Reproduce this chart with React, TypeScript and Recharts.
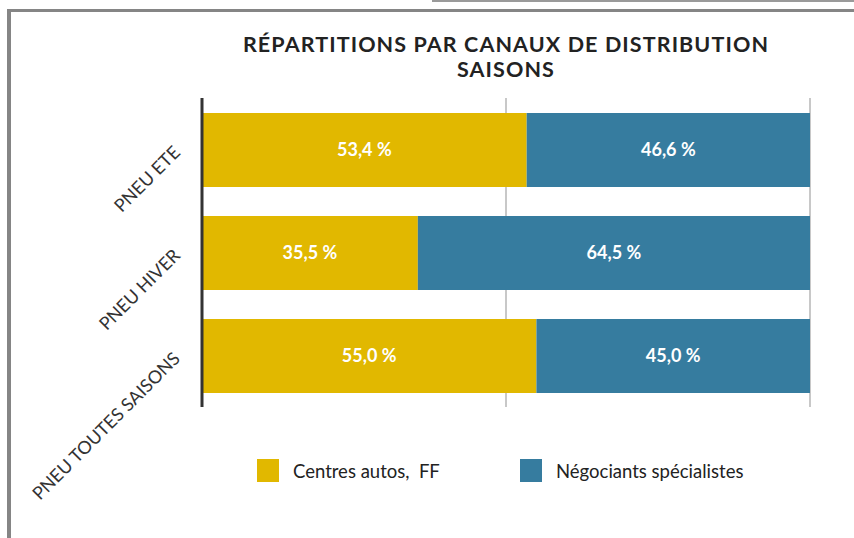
import React from 'react';
import { Bar, BarChart, CartesianGrid, LabelList, Legend, XAxis, YAxis } from 'recharts';

const categories = ['PNEU ETE', 'PNEU HIVER', 'PNEU TOUTES SAISONS'];
const centresAutos = [53.4, 35.5, 55.0];
const negociants = [46.6, 64.5, 45.0];
const xTicks = [0, 50, 100];

const SERIES = [
  { key: 'centres', name: 'Centres autos,  FF', color: '#E1B800' },
  { key: 'negociants', name: 'Négociants spécialistes', color: '#367C9F' },
];

const FONT = 'Lato, "Open Sans", sans-serif';

const data = categories.map((name, i) => ({
  name,
  centres: centresAutos[i],
  negociants: negociants[i],
}));

const formatPct = (v: number) => `${v.toFixed(1).replace('.', ',')} %`;

function AngledTick({ x, y, payload }: any) {
  return (
    <text
      x={x}
      y={y}
      dy={6}
      transform={`rotate(-45 ${x} ${y})`}
      textAnchor="end"
      fill="#333"
      fontSize={18}
      fontFamily={FONT}
    >
      {payload.value}
    </text>
  );
}

function LegendContent() {
  return (
    <div style={{ display: 'flex', alignItems: 'center', fontFamily: FONT, fontSize: 18.5, color: '#222' }}>
      {SERIES.map((s, i) => (
        <div key={s.key} style={{ display: 'flex', alignItems: 'center', width: i === 0 ? 263 : 'auto' }}>
          <span style={{ width: 22, height: 23, background: s.color, display: 'inline-block', marginRight: 14 }} />
          <span style={{ whiteSpace: 'pre' }}>{s.name}</span>
        </div>
      ))}
    </div>
  );
}

export default function App() {
  return (
    <div style={{ position: 'absolute', left: 0, top: 0, width: 854, height: 538, background: '#fff', overflow: 'hidden' }}>
      <div style={{ position: 'absolute', left: 432, top: 0, width: 422, height: 2, background: '#9a9a9a' }} />
      <div style={{ position: 'absolute', left: 7, top: 9, width: 847, height: 3, background: '#858585' }} />
      <div style={{ position: 'absolute', left: 7, top: 9, width: 4, height: 529, background: '#858585' }} />
      <div
        style={{
          position: 'absolute',
          left: 152,
          top: 32,
          width: 708,
          textAlign: 'center',
          fontFamily: FONT,
          fontWeight: 700,
          fontSize: 21.5,
          letterSpacing: 1.1,
          lineHeight: '25px',
          color: '#222',
        }}
      >
        RÉPARTITIONS PAR CANAUX DE DISTRIBUTION
        <br />
        SAISONS
      </div>
      <div style={{ position: 'absolute', left: 0, top: 0 }}>
        <BarChart
          width={854}
          height={538}
          data={data}
          layout="vertical"
          barSize={74}
          margin={{ top: 98, right: 44, bottom: 131, left: 22 }}
        >
          <CartesianGrid horizontal={false} stroke="#c8c8c8" strokeWidth={2} />
          <XAxis type="number" domain={[0, 100]} ticks={xTicks} hide />
          <YAxis
            type="category"
            dataKey="name"
            width={180}
            axisLine={{ stroke: '#333', strokeWidth: 3 }}
            tickLine={false}
            tickSize={0}
            tickMargin={25}
            tick={<AngledTick />}
            interval={0}
          />
          <Legend
            layout="horizontal"
            verticalAlign="middle"
            align="center"
            wrapperStyle={{ top: 459, left: 257, width: 560 }}
            content={<LegendContent />}
          />
          {SERIES.map((s) => (
            <Bar key={s.key} dataKey={s.key} name={s.name} stackId="a" fill={s.color} isAnimationActive={false}>
              <LabelList
                dataKey={s.key}
                position="center"
                formatter={(v: number) => formatPct(v)}
                fill="#fff"
                fontSize={18}
                fontWeight={700}
                fontFamily={FONT}
              />
            </Bar>
          ))}
        </BarChart>
      </div>
    </div>
  );
}
